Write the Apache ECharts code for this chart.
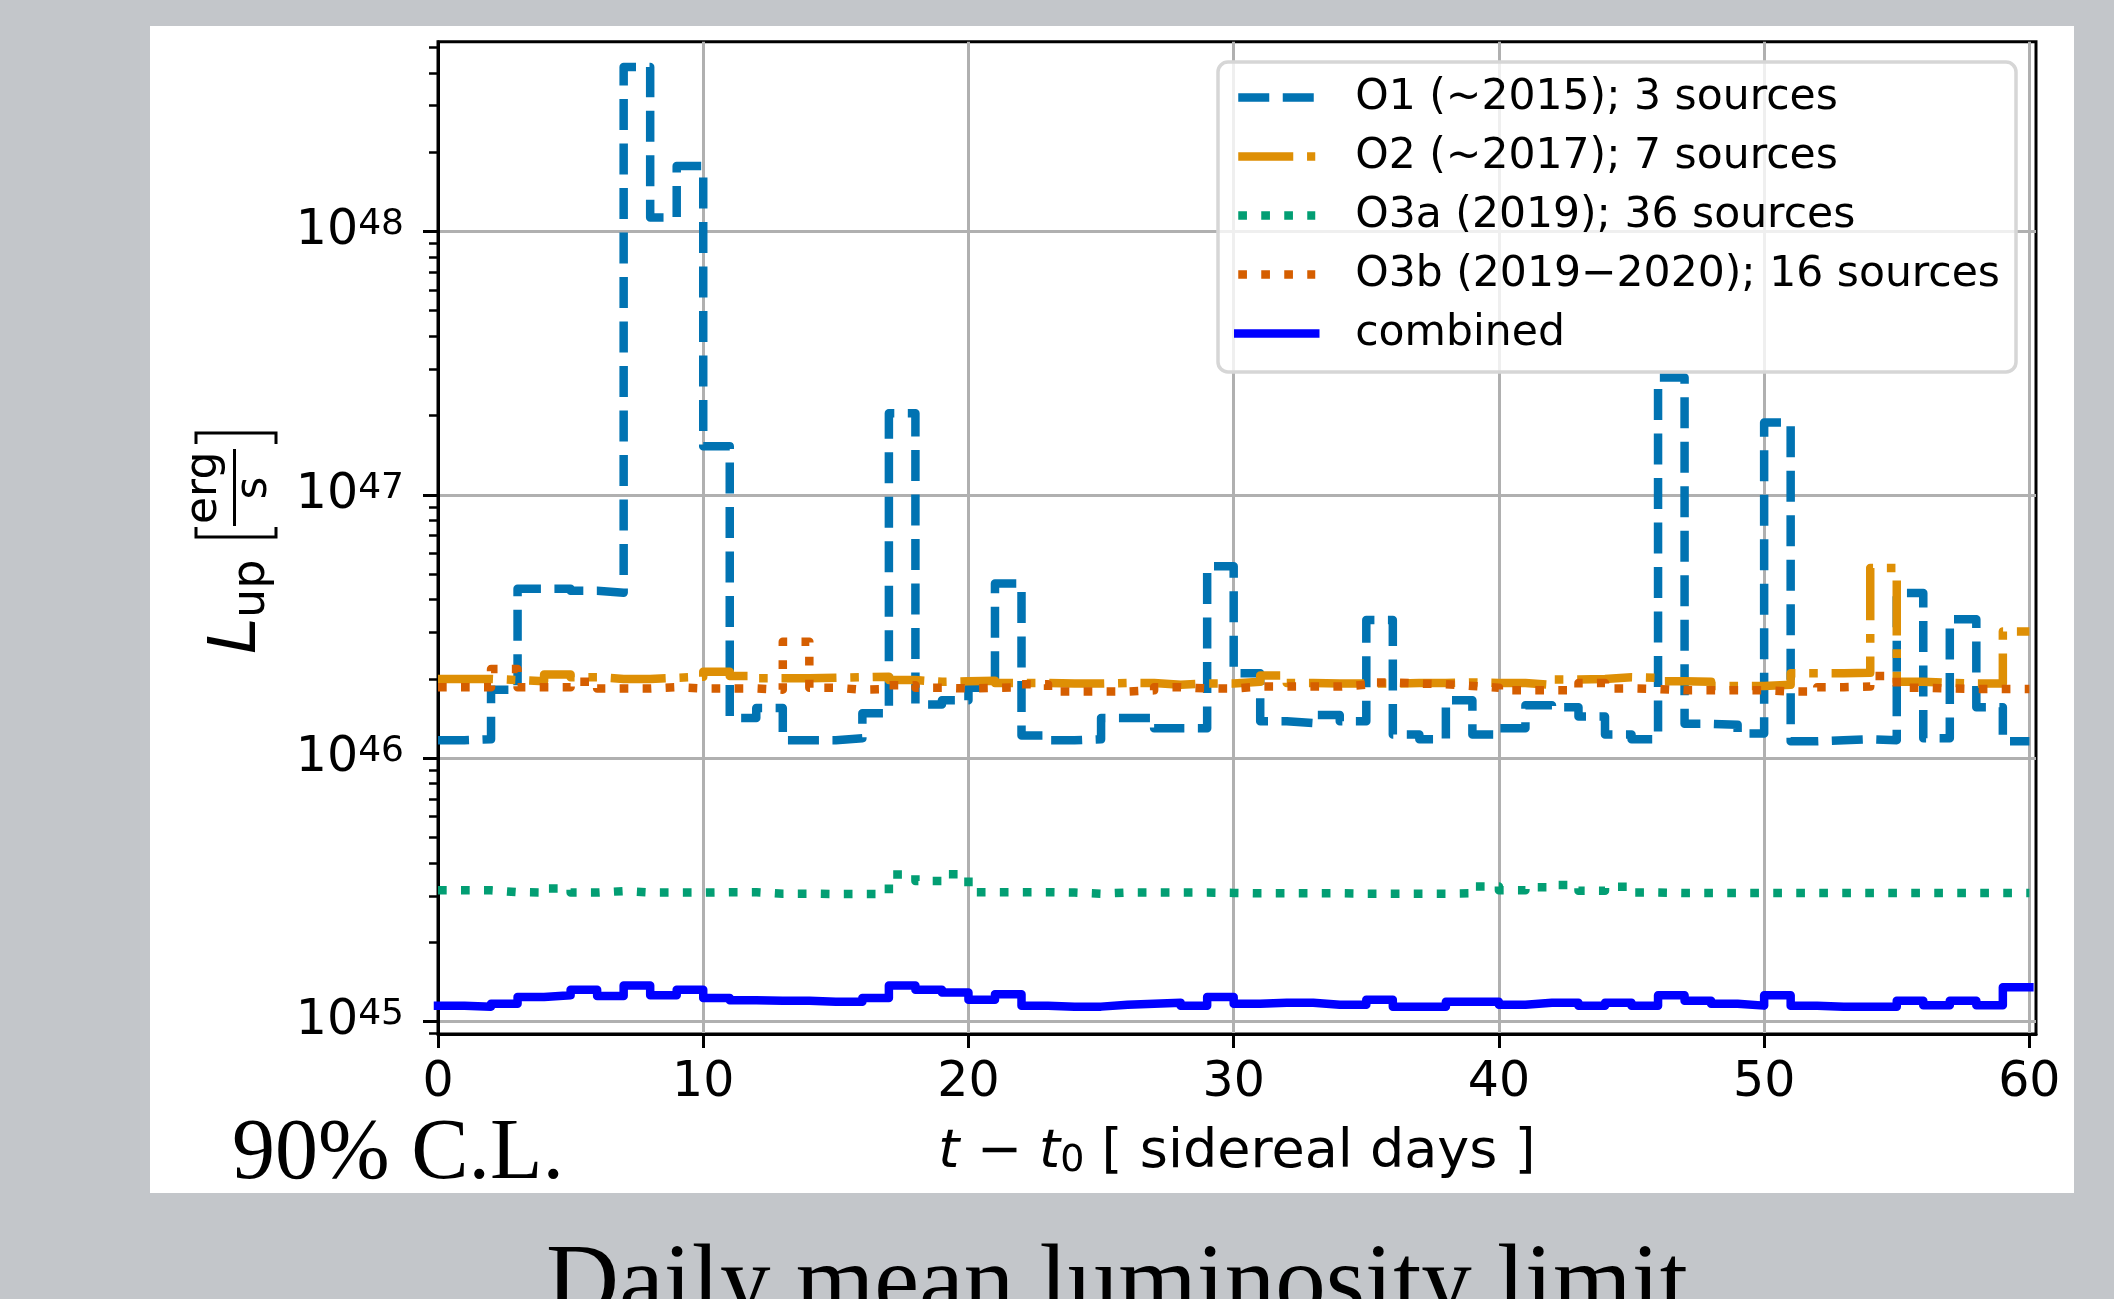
<!DOCTYPE html>
<html><head><meta charset="utf-8">
<script src="https://cdn.jsdelivr.net/npm/echarts@6/dist/echarts.min.js"></script>
<style>html,body{margin:0;padding:0;background:#c3c6ca;} #c{width:2114px;height:1299px;}</style>
</head><body><div id="c"></div>
<script>
// bin edges (sidereal days)
const days = [0,1,2,3,4,5,6,7,8,9,10,11,12,13,14,15,16,17,18,19,20,21,22,23,24,25,26,27,28,29,30,
  31,32,33,34,35,36,37,38,39,40,41,42,43,44,45,46,47,48,49,50,51,52,53,54,55,56,57,58,59,60];

const seriesNames = ['O1 (~2015); 3 sources','O2 (~2017); 7 sources','O3a (2019); 36 sources','O3b (2019\u22122020); 16 sources','combined'];

const o1 = [1.17e46,1.18e46,1.82e46,4.40e46,4.40e46,4.32e46,4.25e46,4.21e48,1.13e48,1.77e48,
  1.53e47,1.42e46,1.55e46,1.17e46,1.17e46,1.19e46,1.48e46,2.04e47,1.60e46,1.66e46,
  1.85e46,4.60e46,1.22e46,1.17e46,1.18e46,1.42e46,1.42e46,1.30e46,1.30e46,5.35e46,
  2.10e46,1.38e46,1.36e46,1.46e46,1.38e46,3.35e46,1.23e46,1.18e46,1.66e46,1.23e46,
  1.30e46,1.59e46,1.56e46,1.44e46,1.23e46,1.18e46,2.79e47,1.35e46,1.34e46,1.24e46,
  1.88e47,1.16e46,1.17e46,1.18e46,1.17e46,4.24e46,1.19e46,3.37e46,1.56e46,1.16e46];

const o2 = [2.00e46,2.00e46,1.98e46,1.96e46,2.08e46,2.03e46,2.00e46,2.00e46,2.02e46,2.04e46,
  2.13e46,2.05e46,2.01e46,2.01e46,2.02e46,2.03e46,2.04e46,1.98e46,1.95e46,1.96e46,
  1.97e46,1.93e46,1.93e46,1.92e46,1.92e46,1.93e46,1.93e46,1.90e46,1.92e46,1.92e46,
  1.95e46,2.06e46,1.93e46,1.92e46,1.92e46,1.92e46,1.93e46,1.93e46,1.94e46,1.93e46,
  1.93e46,1.90e46,1.99e46,2.00e46,2.03e46,2.02e46,1.96e46,1.95e46,1.88e46,1.88e46,
  1.90e46,2.10e46,2.10e46,2.11e46,5.27e46,1.95e46,1.93e46,1.92e46,1.92e46,3.03e46];

const o3a = [3.15e45,3.15e45,3.10e45,3.09e45,3.20e45,3.09e45,3.13e45,3.09e45,3.09e45,3.09e45,
  3.10e45,3.10e45,3.06e45,3.06e45,3.05e45,3.05e45,3.05e45,3.62e45,3.42e45,3.63e45,
  3.10e45,3.10e45,3.10e45,3.09e45,3.06e45,3.09e45,3.09e45,3.09e45,3.09e45,3.08e45,
  3.07e45,3.07e45,3.07e45,3.07e45,3.06e45,3.06e45,3.06e45,3.06e45,3.07e45,3.26e45,
  3.15e45,3.24e45,3.30e45,3.14e45,3.25e45,3.09e45,3.08e45,3.08e45,3.08e45,3.08e45,
  3.08e45,3.08e45,3.08e45,3.08e45,3.08e45,3.08e45,3.08e45,3.08e45,3.08e45,3.08e45];

const o3b = [1.86e46,1.86e46,2.18e46,1.86e46,1.86e46,1.95e46,1.84e46,1.84e46,1.86e46,1.84e46,
  1.84e46,1.84e46,1.82e46,2.77e46,1.85e46,1.82e46,1.83e46,1.89e46,1.85e46,1.84e46,
  1.85e46,1.86e46,1.91e46,1.79e46,1.79e46,1.79e46,1.81e46,1.86e46,1.84e46,1.84e46,
  1.87e46,1.87e46,1.87e46,1.87e46,1.90e46,1.94e46,1.92e46,1.91e46,1.88e46,1.85e46,
  1.81e46,1.81e46,1.81e46,1.93e46,1.84e46,1.83e46,1.81e46,1.81e46,1.81e46,1.81e46,
  1.79e46,1.79e46,1.86e46,1.87e46,2.05e46,1.85e46,1.84e46,1.83e46,1.83e46,1.83e46];

const combined = [1.15e45,1.14e45,1.17e45,1.24e45,1.26e45,1.32e45,1.25e45,1.37e45,1.26e45,1.32e45,
  1.23e45,1.205e45,1.20e45,1.20e45,1.19e45,1.19e45,1.23e45,1.37e45,1.32e45,1.29e45,
  1.21e45,1.27e45,1.15e45,1.14e45,1.14e45,1.16e45,1.17e45,1.18e45,1.15e45,1.24e45,
  1.17e45,1.18e45,1.18e45,1.16e45,1.16e45,1.21e45,1.14e45,1.14e45,1.19e45,1.19e45,
  1.16e45,1.18e45,1.18e45,1.15e45,1.18e45,1.15e45,1.26e45,1.20e45,1.17e45,1.15e45,
  1.26e45,1.15e45,1.14e45,1.14e45,1.14e45,1.20e45,1.155e45,1.20e45,1.155e45,1.35e45];

const xTicks = [0,10,20,30,40,50,60];
const yMajor = [1e45,1e46,1e47,1e48];
const yMinor = [9e44,2e45,3e45,4e45,5e45,6e45,7e45,8e45,9e45,2e46,3e46,4e46,5e46,6e46,7e46,8e46,9e46,
  2e47,3e47,4e47,5e47,6e47,7e47,8e47,9e47,2e48,3e48,4e48,5e48];

function stepData(vals){
  const d = vals.map((v,i)=>[days[i], v]);
  d.push([days[vals.length], vals[vals.length-1]]);
  return d;
}

const FONT = '"DejaVu Sans"';
const LW = 8.5;
const styles = [
  {color:'#0173b2', type:[31,13.5]},
  {color:'#de8f05', type:[55,13.8,8.6,13.8]},
  {color:'#029e73', type:[8.7,14.3]},
  {color:'#d55e00', type:[8.7,14.3]},
  {color:'#0000ff', type:'solid'}
];
const allVals = [o1,o2,o3a,o3b,combined];

const series = allVals.map((vals,k)=>({
  name: seriesNames[k],
  type:'line',
  step:'end',
  data: stepData(vals),
  showSymbol:false,
  symbol:'none',
  clip:true,
  animation:false,
  z: 2+k*0.01,
  lineStyle:{color:styles[k].color, width:LW, type:styles[k].type, cap: k===4?'square':'butt', join:'round'},
  itemStyle:{color:styles[k].color}
}));

const chart = echarts.init(document.getElementById('c'), null, {renderer:'canvas'});
const yMin = Math.pow(10,44.953), yMax = Math.pow(10,48.72);

chart.setOption({
  backgroundColor:'#c3c6ca',
  animation:false,
  grid:{left:438, top:41.7, width:1598, height:992.3, show:true, borderColor:'#000', borderWidth:3, backgroundColor:'rgba(0,0,0,0)', containLabel:false},
  xAxis:{
    type:'value', min:0, max:60.25,
    axisLine:{show:true, lineStyle:{color:'#000', width:3}},
    axisTick:{show:true, inside:false, length:14, lineStyle:{color:'#000', width:3}, customValues:xTicks},
    axisLabel:{show:true, customValues:xTicks, color:'#000', fontSize:49, fontFamily:FONT, margin:25, lineHeight:49},
    splitLine:{show:true, lineStyle:{color:'#b0b0b0', width:3}},
    name:'{i|t} \u2212 {i|t}{sub|0} [ sidereal days ]',
    nameLocation:'middle', nameGap:92,
    nameTextStyle:{color:'#000', fontSize:54, fontFamily:FONT, lineHeight:54,
      rich:{i:{fontStyle:'italic', fontSize:54, fontFamily:FONT, color:'#000', lineHeight:54},
            sub:{fontSize:38, fontFamily:FONT, color:'#000', verticalAlign:'bottom', lineHeight:12}}}
  },
  yAxis:[{
    type:'log', logBase:10, min:yMin, max:yMax,
    axisLine:{show:true, lineStyle:{color:'#000', width:3}},
    axisTick:{show:true, inside:false, length:15, lineStyle:{color:'#000', width:3}, customValues:yMajor},
    axisLabel:{show:true, customValues:yMajor, margin:34,
      formatter:(v)=>'{b|10}{s|'+Math.round(Math.log10(v))+'}',
      rich:{b:{fontSize:49, fontFamily:FONT, color:'#000', lineHeight:49},
            s:{fontSize:36, fontFamily:FONT, color:'#000', lineHeight:20, verticalAlign:'top'}}},
    splitLine:{show:true, lineStyle:{color:'#b0b0b0', width:3}}
  },{
    type:'log', logBase:10, min:yMin, max:yMax, position:'left', offset:0,
    axisLine:{show:false},
    axisTick:{show:true, inside:false, length:9, lineStyle:{color:'#000', width:2.5}, customValues:yMinor},
    axisLabel:{show:false},
    splitLine:{show:false}
  }],
  legend:{
    show:true, orient:'vertical', left:1234, top:76, padding:0,
    itemWidth:77, itemHeight:40, itemGap:16,
    data:seriesNames,
    textStyle:{color:'#000', fontSize:42.5, fontFamily:FONT, lineHeight:40, padding:[0,0,0,35]},
    lineStyle:{width:LW},
    itemStyle:{opacity:0},
    selectedMode:false,
    z:10
  },
  graphic:[
    {type:'rect', z:-10, silent:true, shape:{x:150, y:26, width:1924, height:1167}, style:{fill:'#ffffff'}},
    {type:'rect', z:5, silent:true, shape:{x:1218, y:62, width:798, height:310, r:10},
      style:{fill:'rgba(255,255,255,0.8)', stroke:'#d6d6d6', lineWidth:3.5}},
    {type:'group', x:261, y:654, rotation:Math.PI/2, z:10, silent:true, children:[
      {type:'text', x:0, y:-22.8, style:{text:'L', fontSize:66, fontStyle:'italic', fontFamily:FONT, fill:'#000', align:'left', verticalAlign:'middle'}},
      {type:'text', x:36, y:-8.9, style:{text:'up', fontSize:46, fontFamily:FONT, fill:'#000', align:'left', verticalAlign:'middle'}},
      {type:'polyline', shape:{points:[[127,-65],[117,-65],[117,15],[127,15]]}, style:{stroke:'#000', lineWidth:3, fill:null}},
      {type:'text', x:130, y:-56.2, style:{text:'erg', fontSize:44, fontFamily:FONT, fill:'#000', align:'left', verticalAlign:'middle'}},
      {type:'line', shape:{x1:128, y1:-26.5, x2:205, y2:-26.5}, style:{stroke:'#000', lineWidth:3}},
      {type:'text', x:166, y:-6.2, style:{text:'s', fontSize:44, fontFamily:FONT, fill:'#000', align:'center', verticalAlign:'middle'}},
      {type:'polyline', shape:{points:[[210,-65],[221,-65],[221,15],[210,15]]}, style:{stroke:'#000', lineWidth:3, fill:null}}
    ]},
    {type:'text', z:10, silent:true, x:232, y:1155, style:{text:'90% C.L.', fontSize:86, fontFamily:'"Liberation Serif"', fill:'#000', align:'left', verticalAlign:'middle'}},
    {type:'text', z:10, silent:true, x:546, y:1287, style:{text:'Daily mean luminosity limit', fontSize:101, fontFamily:'"Liberation Serif"', fill:'#000', align:'left', verticalAlign:'middle'}}
  ],
  series:series
});
</script></body></html>
